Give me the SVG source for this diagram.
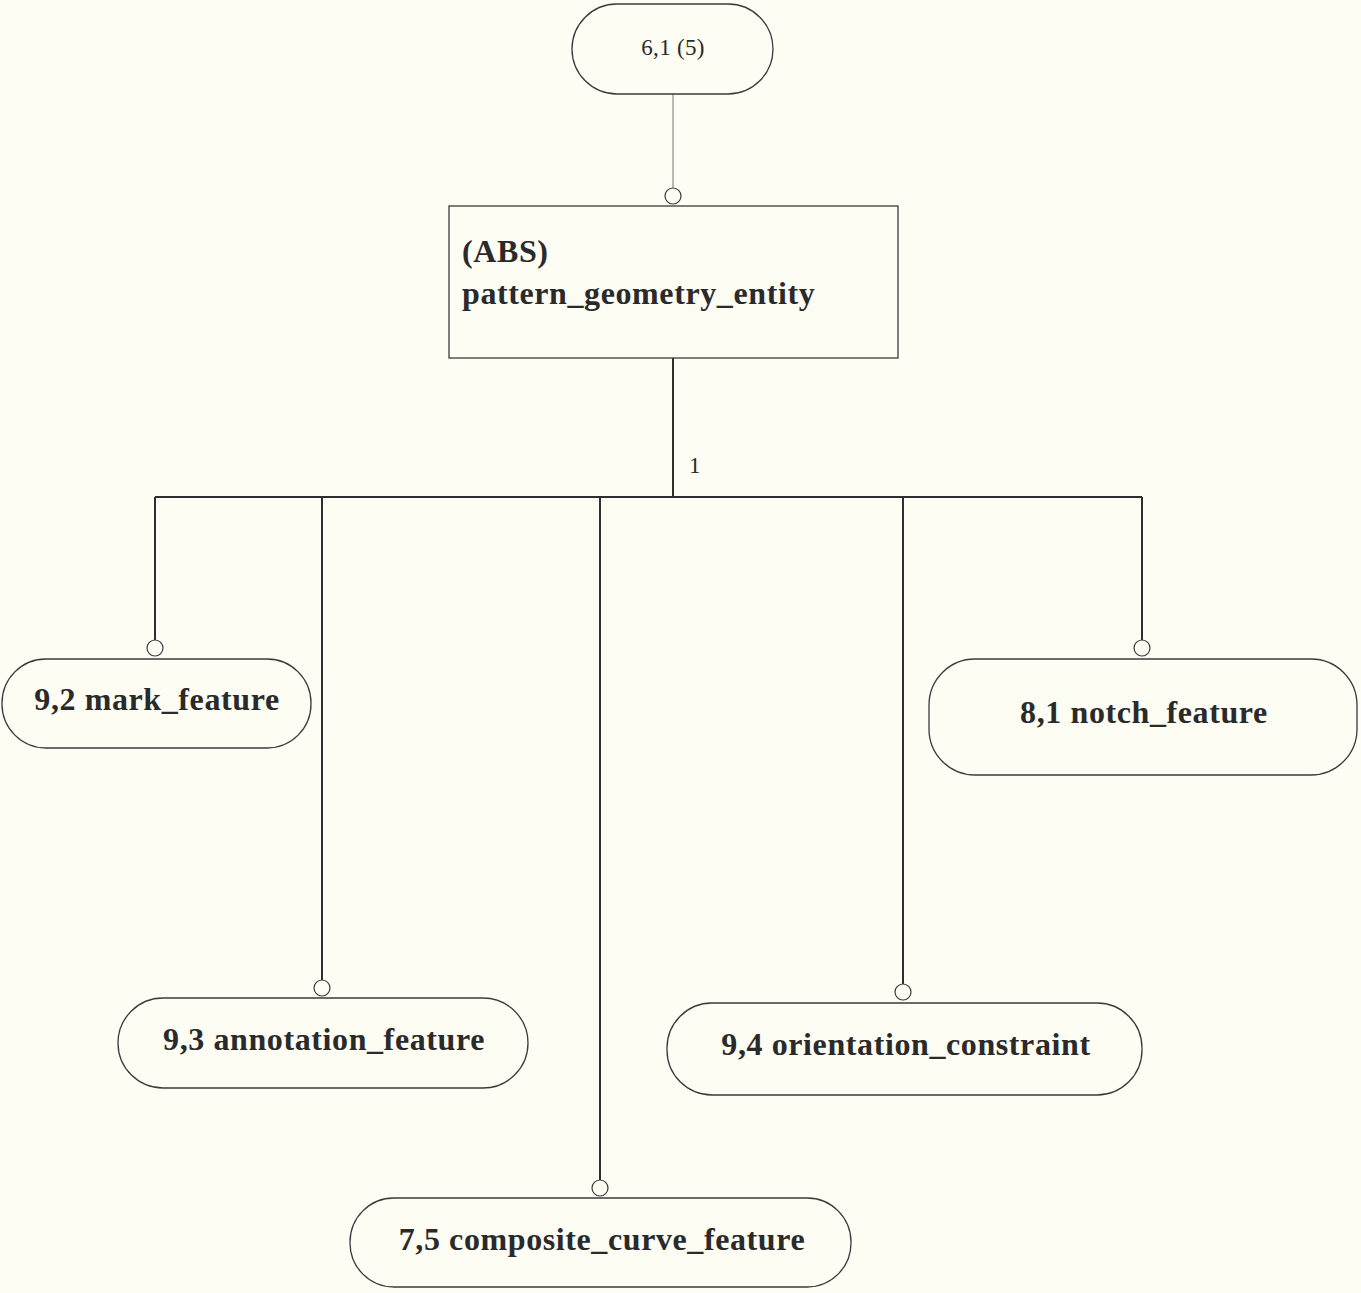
<svg xmlns="http://www.w3.org/2000/svg" width="1361" height="1293" viewBox="0 0 1361 1293">
  <style>
    .node { fill: none; stroke: #3a3a3a; stroke-width: 1.3; }
    .lbl { font-family: "Liberation Serif", "Times New Roman", serif; font-weight: bold; font-size: 32px; letter-spacing: 0.6px; fill: #2a2a2a; text-anchor: middle; }
    .lbl.left { text-anchor: start; }
    .small { font-family: "Liberation Serif", "Times New Roman", serif; font-size: 23px; letter-spacing: 0.3px; fill: #2a2a2a; }
    .small.mid { text-anchor: middle; }
    .wire { fill: none; stroke: #2e2e2e; stroke-width: 2; }
    .thin { fill: none; stroke: #777; stroke-width: 1; }
    .ring { fill: #fdfdf4; stroke: #3a3a3a; stroke-width: 1.2; }
  </style>
  <rect width="1361" height="1293" fill="#fdfdf4"/>

  <!-- connectors -->
  <g id="connectors">
    <line class="thin" x1="673" y1="94" x2="673" y2="188"/>
    <circle class="ring" cx="673" cy="196" r="8"/>
    <line class="wire" x1="673" y1="358" x2="673" y2="497"/>
    <text class="small" x="689" y="473">1</text>
    <line class="wire" x1="155" y1="497" x2="1142" y2="497"/>
    <line class="wire" x1="155" y1="497" x2="155" y2="640"/>
    <circle class="ring" cx="155" cy="648" r="8"/>
    <line class="wire" x1="322" y1="497" x2="322" y2="980"/>
    <circle class="ring" cx="322" cy="988" r="8"/>
    <line class="wire" x1="600" y1="497" x2="600" y2="1180"/>
    <circle class="ring" cx="600" cy="1188" r="8"/>
    <line class="wire" x1="903" y1="497" x2="903" y2="984"/>
    <circle class="ring" cx="903" cy="992" r="8"/>
    <line class="wire" x1="1142" y1="497" x2="1142" y2="640"/>
    <circle class="ring" cx="1142" cy="648" r="8"/>
  </g>

  <!-- nodes -->
  <g id="n61">
    <rect class="node" x="572" y="4" width="201" height="90" rx="45"/>
    <text class="small mid" x="673" y="55">6,1 (5)</text>
  </g>
  <g id="pattern_geometry_entity">
    <rect class="node" x="449" y="206" width="449" height="152"/>
    <text class="lbl left" x="462" y="262">(ABS)</text>
    <text class="lbl left" x="462" y="304">pattern_geometry_entity</text>
  </g>
  <g id="mark_feature">
    <rect class="node" x="2" y="659" width="309" height="89" rx="44"/>
    <text class="lbl" x="157" y="710">9,2 mark_feature</text>
  </g>
  <g id="notch_feature">
    <rect class="node" x="929" y="659" width="428" height="116" rx="46"/>
    <text class="lbl" x="1144" y="723">8,1 notch_feature</text>
  </g>
  <g id="annotation_feature">
    <rect class="node" x="118" y="998" width="410" height="90" rx="45"/>
    <text class="lbl" x="324" y="1050">9,3 annotation_feature</text>
  </g>
  <g id="orientation_constraint">
    <rect class="node" x="667" y="1003" width="475" height="92" rx="45"/>
    <text class="lbl" x="906" y="1055">9,4 orientation_constraint</text>
  </g>
  <g id="composite_curve_feature">
    <rect class="node" x="350" y="1198" width="501" height="89" rx="44"/>
    <text class="lbl" x="602" y="1250">7,5 composite_curve_feature</text>
  </g>
</svg>
